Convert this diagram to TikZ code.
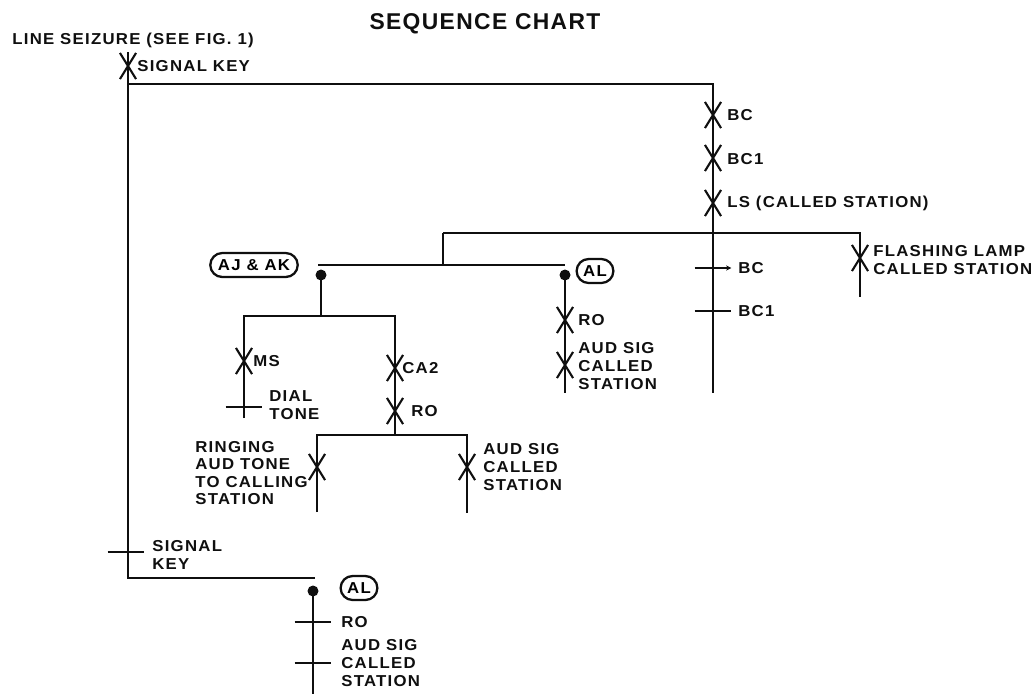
\documentclass[tikz,border=0pt]{standalone}
\usepackage{fontspec}
\setmainfont{Liberation Sans}[FakeStretch=1.06,LetterSpace=8]
\newfontfamily\titlefont{Liberation Sans}[LetterSpace=6]
\usepackage{tikz}
\usetikzlibrary{shapes.misc,arrows.meta}
\definecolor{cInk}{RGB}{15,15,15}

\begin{document}
\begin{tikzpicture}[x=0.02cm,y=-0.02cm,
  wire/.style={cInk,line width=1.3pt},
  xmark/.style={draw=cInk,cross out,line width=1.2pt,minimum width=0.28cm,minimum height=0.48cm,inner sep=0pt},
  tickmark/.style={inner sep=0pt,minimum width=0.72cm,minimum height=0pt,
    append after command={(\tikzlastnode.west) edge[wire] (\tikzlastnode.east)}},
  tickarrow/.style={inner sep=0pt,minimum width=0.72cm,minimum height=0pt,
    append after command={(\tikzlastnode.west) edge[wire,-{Stealth[length=3pt,width=3pt]}] (\tikzlastnode.east)}},
  contact/.style={circle,fill=cInk,inner sep=0pt,minimum size=0.22cm},
  relay/.style={draw=cInk,rounded rectangle,line width=1.3pt,inner xsep=3pt,inner ysep=0pt,
    minimum height=0.48cm,font=\bfseries\fontsize{9}{10}\selectfont},
  lbl/.style={cInk,anchor=west,align=left,inner sep=0pt,font=\bfseries\fontsize{9}{10}\selectfont}]
  \useasboundingbox (0,0) rectangle (1034,694);

  \node[cInk,font=\titlefont\bfseries\fontsize{13}{15}\selectfont] (title) at (485,24) {SEQUENCE CHART};
  \node[lbl] (seize) at (12,40) {LINE SEIZURE (SEE FIG. 1)};

  % wiring
  \coordinate (m0) at (128,52);
  \coordinate (m1) at (128,84);
  \coordinate (m2) at (128,578);
  \coordinate (b0) at (315,578);
  \coordinate (r0) at (713,84);
  \coordinate (r2) at (713,393);
  \coordinate (h0) at (443,233);
  \coordinate (h1) at (860,233);
  \coordinate (h2) at (860,297);
  \coordinate (h3) at (443,265);
  \coordinate (a0) at (318,265);
  \coordinate (a1) at (565,265);
  \coordinate (j0) at (321,316);
  \coordinate (j1) at (244,316);
  \coordinate (j2) at (395,316);
  \coordinate (j3) at (244,418);
  \coordinate (j4) at (395,435);
  \coordinate (g0) at (317,435);
  \coordinate (g1) at (467,435);
  \coordinate (g2) at (317,512);
  \coordinate (g3) at (467,513);
  \coordinate (l0) at (565,393);
  \coordinate (e0) at (313,694);

  \node[contact] (kAJ) at (321,275) {};
  \node[contact] (kAL) at (565,275) {};
  \node[contact] (kALb) at (313,591) {};

  \draw[wire] (m0) -- (m2) -- (b0);
  \draw[wire] (m1) -- (r0) -- (r2);
  \draw[wire] (h0) -- (h1) -- (h2);
  \draw[wire] (h0) -- (h3);
  \draw[wire] (a0) -- (a1);
  \draw[wire] (kAJ.center) -- (j0);
  \draw[wire] (j3) -- (j1) -- (j2) -- (j4);
  \draw[wire] (g2) -- (g0) -- (g1) -- (g3);
  \draw[wire] (kAL.center) -- (l0);
  \draw[wire] (kALb.center) -- (e0);

  % operated / released marks
  \node[xmark] (xSig) at (128,66) {};
  \node[xmark] (xBC) at (713,115) {};
  \node[xmark] (xBCa) at (713,158) {};
  \node[xmark] (xLS) at (713,203) {};
  \node[xmark] (xLamp) at (860,258) {};
  \node[xmark] (xMS) at (244,361) {};
  \node[xmark] (xCA) at (395,368) {};
  \node[xmark] (xRO) at (395,411) {};
  \node[xmark] (xRing) at (317,467) {};
  \node[xmark] (xAud) at (467,467) {};
  \node[xmark] (xROm) at (565,320) {};
  \node[xmark] (xAudm) at (565,365) {};

  \node[tickarrow] (tBC) at (713,268) {};
  \node[tickmark] (tBCa) at (713,311) {};
  \node[tickmark] (tDial) at (244,407) {};
  \node[tickmark] (tSig) at (126,552) {};
  \node[tickmark] (tRO) at (313,622) {};
  \node[tickmark] (tAud) at (313,663) {};

  \node[relay,minimum width=1.96cm] (rAJ) at (254,265) {AJ~\&~AK};
  \node[relay] (rAL) at (595,271) {AL};
  \node[relay] (rALb) at (359,588) {AL};

  % labels
  \node[lbl] (lSig) at (137,66) {SIGNAL KEY};
  \node[lbl] (lBC) at (727,115) {BC};
  \node[lbl] (lBCa) at (727,159) {BC1};
  \node[lbl] (lLS) at (727,203) {LS (CALLED STATION)};
  \node[lbl] (lLamp) at (873,260) {FLASHING LAMP\\CALLED STATION};
  \node[lbl] (lBCt) at (738,268) {BC};
  \node[lbl] (lBCat) at (738,311) {BC1};
  \node[lbl] (lMS) at (253,361) {MS};
  \node[lbl] (lDial) at (269,405) {DIAL\\TONE};
  \node[lbl] (lCA) at (402,368) {CA2};
  \node[lbl] (lRO) at (411,411) {RO};
  \node[lbl] (lROm) at (578,320) {RO};
  \node[lbl] (lAudm) at (578,366) {AUD SIG\\CALLED\\STATION};
  \node[lbl] (lRing) at (195,473) {RINGING\\AUD TONE\\TO CALLING\\STATION};
  \node[lbl] (lAud) at (483,467) {AUD SIG\\CALLED\\STATION};
  \node[lbl] (lSigb) at (152,555) {SIGNAL\\KEY};
  \node[lbl] (lROb) at (341,622) {RO};
  \node[lbl] (lAudb) at (341,663) {AUD SIG\\CALLED\\STATION};
\end{tikzpicture}
\end{document}
